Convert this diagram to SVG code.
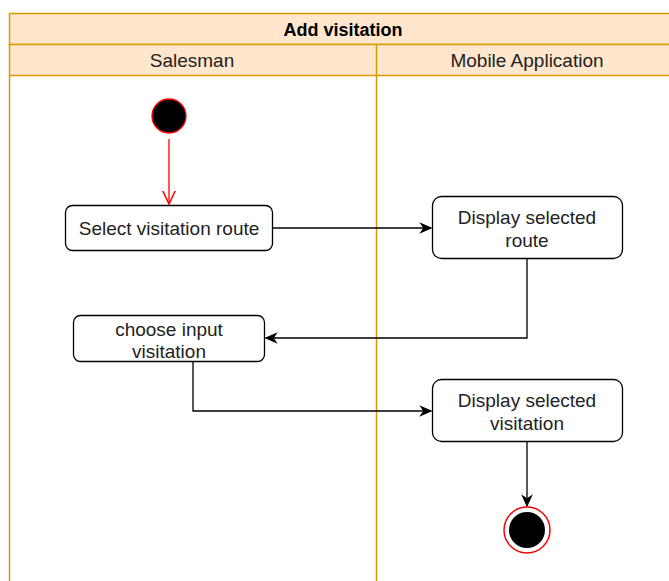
<svg xmlns="http://www.w3.org/2000/svg" width="669" height="581" viewBox="0 0 669 581">
<defs>
<style>
.lane{fill:#ffe6cc;stroke:#d79b00;stroke-width:1.5}
.ln{fill:none;stroke:#d79b00;stroke-width:1.5}
.node{fill:#fff;stroke:#000;stroke-width:1.3}
.t{font-family:"Liberation Sans",Arial,sans-serif;font-size:19px;fill:#222;text-anchor:middle}
.edge{fill:none;stroke:#000;stroke-width:1.3}
</style>
<marker id="ah" viewBox="0 0 10 10" refX="9" refY="5" markerWidth="13" markerHeight="13" markerUnits="userSpaceOnUse" orient="auto"><path d="M0,0.5 L10,5 L0,9.5 L3,5 Z" fill="#000"/></marker>
<marker id="ao" viewBox="0 0 10 10" refX="9.5" refY="5" markerWidth="14" markerHeight="14" markerUnits="userSpaceOnUse" orient="auto"><path d="M0,0.5 L9.5,5 L0,9.5" fill="none" stroke="#ff0000" stroke-width="1.1"/></marker>
</defs>
<rect width="669" height="581" fill="#fff"/>
<g id="pool">
<rect class="lane" x="9.5" y="13.5" width="670" height="31"/>
<text class="t" x="343" y="35.5" style="font-weight:bold;fill:#000;font-size:18px">Add visitation</text>
<rect class="lane" x="9.5" y="44.5" width="670" height="31"/>
<text class="t" x="192" y="67">Salesman</text>
<text class="t" x="527" y="67">Mobile Application</text>
<line class="ln" x1="9.5" y1="75.5" x2="9.5" y2="590"/>
<line class="ln" x1="376.5" y1="44.5" x2="376.5" y2="590"/>
</g>
<g id="connectors">
<line x1="169" y1="139" x2="169" y2="204" fill="none" stroke="#ff0000" stroke-width="1.3" marker-end="url(#ao)"/>
<path class="edge" d="M273,228 H431" marker-end="url(#ah)"/>
<path class="edge" d="M527,259 V338 H266" marker-end="url(#ah)"/>
<path class="edge" d="M193,362 V411 H431" marker-end="url(#ah)"/>
<path class="edge" d="M527,442 V506" marker-end="url(#ah)"/>
</g>
<g id="start"><circle cx="169" cy="116" r="17" fill="#000" stroke="#ff0000" stroke-width="1.3"/></g>
<g id="n1"><rect class="node" x="65.5" y="205.5" width="207" height="45" rx="7"/><text class="t" x="169" y="235">Select visitation route</text></g>
<g id="n2"><rect class="node" x="432.5" y="196.5" width="190" height="62" rx="9"/><text class="t" x="527" y="224">Display selected</text><text class="t" x="527" y="247">route</text></g>
<g id="n3"><rect class="node" x="73.5" y="315.5" width="191" height="46" rx="7"/><text class="t" x="169" y="335.5">choose input</text><text class="t" x="169" y="357.5">visitation</text></g>
<g id="n4"><rect class="node" x="432.5" y="379.5" width="190" height="62" rx="9"/><text class="t" x="527" y="407">Display selected</text><text class="t" x="527" y="430">visitation</text></g>
<g id="end"><circle cx="527" cy="530" r="23" fill="#fff" stroke="#ff0000" stroke-width="1.5"/><circle cx="527" cy="530" r="18" fill="#000"/></g>
</svg>
